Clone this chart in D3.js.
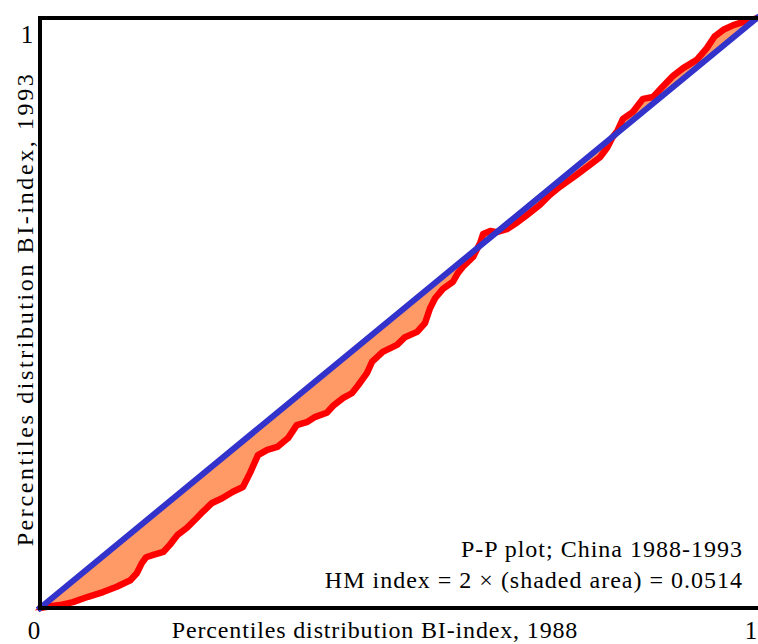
<!DOCTYPE html>
<html>
<head>
<meta charset="utf-8">
<script src="https://cdn.jsdelivr.net/npm/d3@7"></script>
<style>
html,body{margin:0;padding:0;background:#fff;}
svg{display:block;}
</style>
</head>
<body>
<svg id="chart" width="758" height="644"></svg>
<script>
// P-P curve: percentile 1988 (x) vs percentile 1993 (y)
const ppX = [0,0.014,0.028,0.046,0.067,0.088,0.107,0.126,0.135,0.142,0.148,0.158,0.172,0.181,0.192,0.205,0.219,0.227,0.240,0.254,0.269,0.283,0.293,0.304,0.317,0.331,0.346,0.358,0.372,0.384,0.400,0.410,0.423,0.435,0.444,0.456,0.463,0.478,0.498,0.509,0.526,0.537,0.544,0.551,0.562,0.576,0.583,0.591,0.604,0.614,0.618,0.628,0.637,0.651,0.665,0.679,0.697,0.711,0.725,0.746,0.767,0.781,0.791,0.798,0.805,0.813,0.827,0.841,0.855,0.868,0.883,0.897,0.916,0.930,0.941,0.953,0.967,0.980,0.994,1];
const ppY = [0,0.003,0.005,0.010,0.019,0.027,0.036,0.047,0.059,0.076,0.086,0.090,0.095,0.107,0.124,0.136,0.153,0.163,0.178,0.186,0.197,0.205,0.229,0.259,0.268,0.273,0.288,0.310,0.315,0.324,0.331,0.344,0.356,0.364,0.378,0.398,0.417,0.434,0.446,0.459,0.468,0.483,0.508,0.525,0.541,0.553,0.568,0.580,0.595,0.619,0.634,0.639,0.637,0.642,0.653,0.666,0.683,0.700,0.714,0.732,0.751,0.764,0.780,0.797,0.808,0.829,0.841,0.863,0.866,0.883,0.902,0.915,0.929,0.949,0.969,0.980,0.988,0.993,0.997,1];
const diagonal = [0,1];
const xTickLabels = ["0","1"];
const yTickLabels = ["1"];
const xTitle = "Percentiles distribution BI-index, 1988";
const yTitle = "Percentiles distribution BI-index, 1993";
const noteLines = ["P-P plot; China 1988-1993", "HM index = 2 \u00d7 (shaded area) = 0.0514"];

const svg = d3.select("#chart");
const FONT = "Liberation Serif";
const x = d3.scaleLinear().domain([0,1]).range([40,757]);
const y = d3.scaleLinear().domain([0,1]).range([608,18]);

const pts = ppX.map((v,i)=>[v,ppY[i]]);

// shaded area between curve and diagonal
const area = d3.area()
  .x(d=>x(d[0]))
  .y0(d=>y(d[0]))
  .y1(d=>y(d[1]));
svg.append("path").datum(pts)
  .attr("d", area)
  .attr("fill","#FF9966")
  .attr("stroke","#FF0000")
  .attr("stroke-width",3);

// red P-P curve
const line = d3.line().x(d=>x(d[0])).y(d=>y(d[1]));
svg.append("path").datum(pts)
  .attr("d", line)
  .attr("fill","none")
  .attr("stroke","#FF0000")
  .attr("stroke-width",6.5)
  .attr("stroke-linejoin","round")
  .attr("stroke-linecap","round");

// blue diagonal
svg.append("line")
  .attr("x1", x(diagonal[0])).attr("y1", y(diagonal[0]))
  .attr("x2", x(diagonal[1])).attr("y2", y(diagonal[1]))
  .attr("stroke","#3333CC")
  .attr("stroke-width",6)
  .attr("stroke-linecap","square");

// frame
svg.append("rect")
  .attr("x", x(0)).attr("y", y(1))
  .attr("width", 720).attr("height", y(0)-y(1))
  .attr("fill","none").attr("stroke","#000").attr("stroke-width",4);

function txt(){ return svg.append("text").attr("font-family", FONT).attr("fill","#000"); }

// tick labels
txt().attr("x", x(0)-6).attr("y", 639).attr("text-anchor","middle")
  .attr("font-size",25).text(xTickLabels[0]);
txt().attr("x", x(1)-6).attr("y", 639).attr("text-anchor","middle")
  .attr("font-size",25).text(xTickLabels[1]);
txt().attr("x", 27).attr("y", y(1)+25).attr("text-anchor","middle")
  .attr("font-size",25).text(yTickLabels[0]);

// axis titles
txt().attr("x", 375).attr("y", 638).attr("text-anchor","middle")
  .attr("font-size",24).attr("letter-spacing",0.85).text(xTitle);
txt().attr("transform","translate(33,309) rotate(-90)")
  .attr("text-anchor","middle").attr("font-size",24).attr("letter-spacing",2.6).text(yTitle);

// annotation
noteLines.forEach((t,i)=>{
  txt().attr("x", 743).attr("y", 557 + i*31)
    .attr("text-anchor","end").attr("font-size",24).attr("letter-spacing",1).text(t);
});
</script>
</body>
</html>
